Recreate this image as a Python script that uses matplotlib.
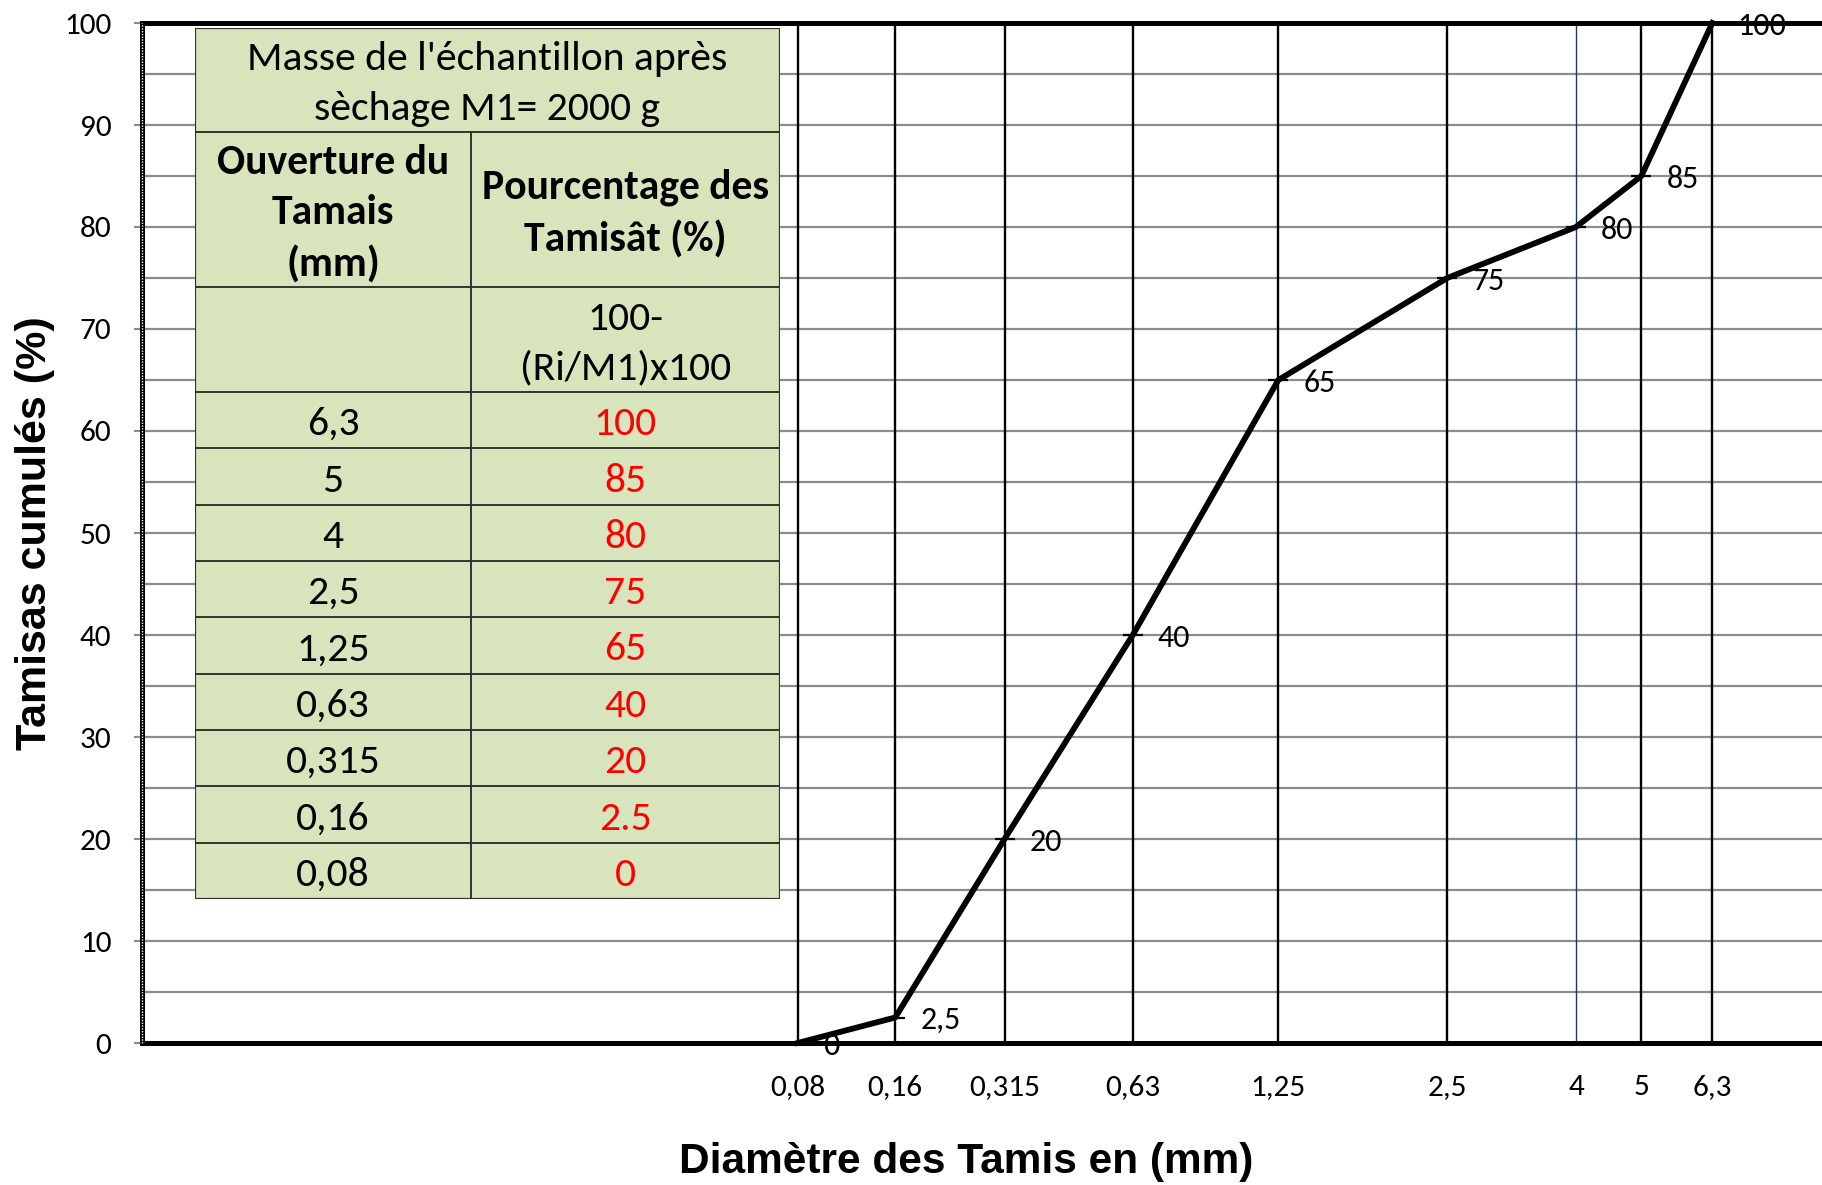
import numpy as np
import matplotlib.pyplot as plt
from matplotlib import font_manager
from matplotlib.patches import Rectangle

# Analyse granulométrique : ouverture des tamis (mm) et tamisats cumulés (%)
tamis = [0.08, 0.16, 0.315, 0.63, 1.25, 2.5, 4, 5, 6.3]
tamisat = [0, 2.5, 20, 40, 65, 75, 80, 85, 100]

graduations_y = [0, 10, 20, 30, 40, 50, 60, 70, 80, 90, 100]
grille_y = [5, 15, 25, 35, 45, 55, 65, 75, 85, 95]

titre_x = "Diamètre des Tamis en (mm)"
titre_y = "Tamisas cumulés (%)"
titre_table = "Masse de l'échantillon après\nsèchage M1= 2000 g"
entete_ouverture = "Ouverture du\nTamais\n(mm)"
entete_pourcentage = "Pourcentage des\nTamisât (%)"
formule = "100-\n(Ri/M1)x100"


def choisir_police(noms):
    dispo = {f.name for f in font_manager.fontManager.ttflist}
    for n in noms:
        if n in dispo:
            return n
    return "DejaVu Sans"


police = choisir_police(["Carlito", "Lato", "Open Sans"])
police_titre = choisir_police(["Liberation Sans", "Arial"])

W, H = 1822, 1185
fig = plt.figure(figsize=(W / 100, H / 100), dpi=100)

# zone du graphique, en pixels de la figure
x0, y_bas, y_haut = 142, 1043, 23
ax = fig.add_axes([x0 / W, (H - y_bas) / H, (W - x0) / W, (y_bas - y_haut) / H])

# échelle puissance 0.2 sur l'axe des diamètres
avant = lambda d: np.power(np.clip(d, 0, None), 0.2)
arriere = lambda u: np.power(np.clip(u, 0, None), 5.0)
ax.set_xscale("function", functions=(avant, arriere))
ax.set_xlim(0, 8.83)
ax.set_ylim(0, 100)

# quadrillage horizontal gris tous les 5 %
ax.set_yticks(graduations_y)
ax.set_yticks(grille_y, minor=True)
ax.yaxis.grid(True, which="both", color="#8c8c8c", lw=1.6, zorder=1)
ax.set_axisbelow(True)

# une verticale par tamis (celle de 4 mm est bleue)
couleurs = ["#1f3864" if d == 4 else "black" for d in tamis]
epaisseurs = [1.0 if d == 4 else 1.7 for d in tamis]
ax.vlines(tamis, 0, 100, colors=couleurs, linewidths=epaisseurs, zorder=2)

# courbe granulométrique
ax.plot(tamis, tamisat, color="black", lw=4.2, marker="_", ms=14, mew=1.6,
        zorder=4, clip_on=False)

for d, v in zip(tamis, tamisat):
    ax.annotate(f"{v:g}".replace(".", ","), (d, v), xytext=(18, -2),
                textcoords="offset points", ha="left", va="center",
                fontsize=23, family=police, zorder=3, annotation_clip=False)

ax.set_xticks(tamis)
ax.set_xticklabels([f"{d:g}".replace(".", ",") for d in tamis], family=police)
ax.set_yticklabels([str(v) for v in graduations_y], family=police)
ax.tick_params(axis="x", which="both", length=0, pad=22, labelsize=22.5)
ax.tick_params(axis="y", which="major", length=6, width=1.5, color="#8c8c8c",
               pad=16, labelsize=22.5)
ax.tick_params(axis="y", which="minor", length=0)

for cote in ["top", "bottom", "left"]:
    ax.spines[cote].set_linewidth(3.6)
    ax.spines[cote].set_color("black")
    ax.spines[cote].set_zorder(5)
ax.spines["right"].set_visible(False)
# liseré pointillé blanc dans l'axe vertical
ax.axvline(0, color="white", lw=1.0, ls=(0, (1, 1)), zorder=6, clip_on=False)

ax.set_xlabel(titre_x, fontsize=30.5, fontweight="bold", family=police_titre)
ax.set_ylabel(titre_y, fontsize=31, fontweight="bold", family=police_titre)
ax.xaxis.label.set_va("center")
ax.yaxis.label.set_va("center")
ax.xaxis.set_label_coords((966 - x0) / (W - x0), -(1162 - y_bas) / (y_bas - y_haut))
ax.yaxis.set_label_coords(-(x0 - 35) / (W - x0), 0.5)

# tableau des résultats posé sur le graphique
tx, ty, tw, th = 195, 28, 585, 871
tab = fig.add_axes([tx / W, (H - ty - th) / H, tw / W, th / H])
tab.set_xlim(0, tw)
tab.set_ylim(th, 0)
tab.axis("off")

col = 276
bords = [0, 104, 259, 364] + [364 + (th - 364) * k / len(tamis) for k in range(1, len(tamis) + 1)]
trait = dict(color="#333333", lw=1.4)

tab.add_patch(Rectangle((0, 0), tw, th, facecolor="#d8e4bc", edgecolor="#333333", lw=1.6))
for b in bords[1:-1]:
    tab.plot([0, tw], [b, b], **trait)
tab.plot([col, col], [bords[1], th], **trait)

dy = 4  # petit décalage vers le bas du texte dans les cellules
txt = dict(ha="center", va="center", fontsize=30, family=police, linespacing=1.45)
tab.text(tw / 2, (bords[0] + bords[1]) / 2 + dy, titre_table, **txt)
tab.text(col / 2, (bords[1] + bords[2]) / 2 + dy, entete_ouverture, fontweight="bold", **txt)
tab.text((col + tw) / 2, (bords[1] + bords[2]) / 2 + dy, entete_pourcentage, fontweight="bold", **txt)
tab.text((col + tw) / 2, (bords[2] + bords[3]) / 2 + dy, formule, **txt)

for i, (d, v) in enumerate(zip(tamis[::-1], tamisat[::-1])):
    yc = (bords[3 + i] + bords[4 + i]) / 2 + dy
    tab.text(col / 2, yc, f"{d:g}".replace(".", ","), **txt)
    tab.text((col + tw) / 2, yc, f"{v:g}", color="#ff0000", **txt)

fig.savefig("out.png", dpi=100)
